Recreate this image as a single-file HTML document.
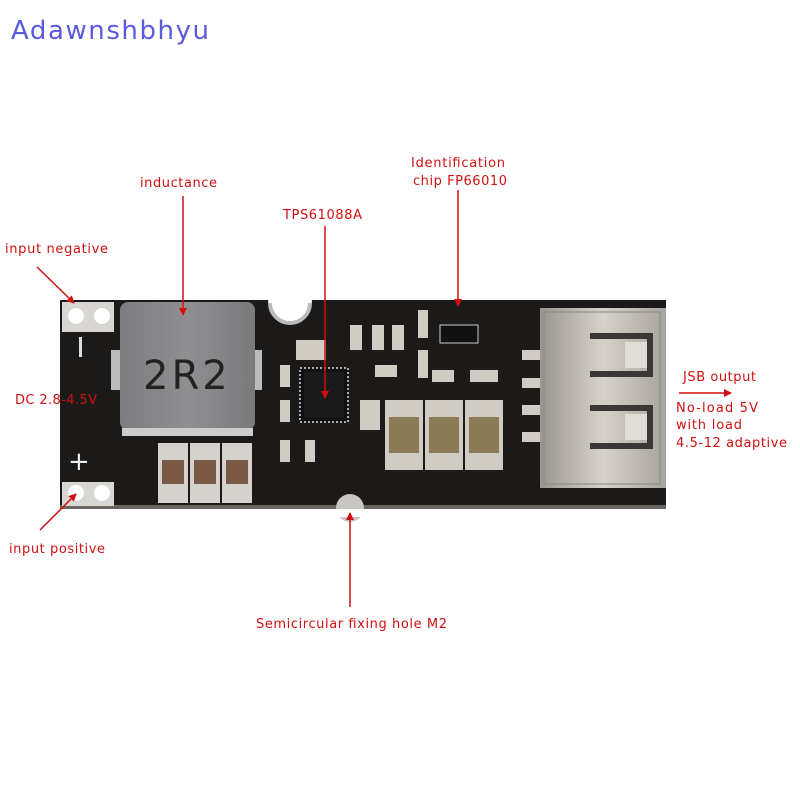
<!DOCTYPE html>
<html><head><meta charset="utf-8"><style>
html,body{margin:0;padding:0;background:#fff;}
svg{display:block;}
text{font-family:"DejaVu Sans","Liberation Sans",sans-serif;}
</style></head><body>
<svg width="800" height="800" viewBox="0 0 800 800" xmlns="http://www.w3.org/2000/svg">
<defs>
<marker id="ah" markerWidth="8" markerHeight="8" refX="7" refY="4" orient="auto" markerUnits="userSpaceOnUse">
<path d="M0,0 L8,4 L0,8 z" fill="#d01010"/></marker>
<linearGradient id="usb" x1="0" x2="1"><stop offset="0" stop-color="#9a958d"/><stop offset="0.5" stop-color="#d6d2cb"/><stop offset="1" stop-color="#a8a39b"/></linearGradient>
<linearGradient id="ind" x1="0" x2="1"><stop offset="0" stop-color="#7d7d80"/><stop offset="0.5" stop-color="#8f8f92"/><stop offset="1" stop-color="#7a7a7c"/></linearGradient>
</defs>
<rect width="800" height="800" fill="#fff"/>
<text x="11" y="39" font-size="26" fill="#5a5ae0" font-family="DejaVu Sans,sans-serif" textLength="198">Adawnshbhyu</text>

<!-- board -->
<rect x="60" y="300" width="606" height="208" fill="#1c1a19"/>
<rect x="60" y="505" width="606" height="4" fill="#6b6560"/>
<path d="M268,300 A22 22 0 0 0 312,300 z" fill="#fff"/>
<path d="M270,303 A20 20 0 0 0 310,303" fill="none" stroke="#bbb" stroke-width="4"/>
<circle cx="350" cy="508" r="14" fill="#c8c6c2"/>
<rect x="336" y="509" width="28" height="8" fill="#fff"/>
<rect x="62" y="302" width="52" height="30" fill="#d8d6d2"/>
<circle cx="76" cy="316" r="8" fill="#fff"/><circle cx="102" cy="316" r="8" fill="#fff"/>
<rect x="62" y="482" width="52" height="24" fill="#d8d6d2"/>
<circle cx="76" cy="493" r="8" fill="#fff"/><circle cx="102" cy="493" r="8" fill="#fff"/>
<rect x="79" y="337" width="3" height="20" fill="#ddd"/>
<text x="68" y="470" font-size="26" fill="#eee">+</text>
<rect x="111" y="350" width="12" height="40" fill="#bbb"/><rect x="252" y="350" width="10" height="40" fill="#bbb"/>
<rect x="120" y="302" width="135" height="128" rx="8" fill="url(#ind)"/>
<rect x="122" y="428" width="131" height="8" fill="#ccc"/>
<text x="143" y="389" font-size="40" fill="#222" font-family="Liberation Mono,monospace" letter-spacing="3">2R2</text>
<g fill="#d4d2cd"><rect x="158" y="443" width="30" height="60"/><rect x="190" y="443" width="30" height="60"/><rect x="222" y="443" width="30" height="60"/></g>
<g fill="#7a5a45"><rect x="162" y="460" width="22" height="24"/><rect x="194" y="460" width="22" height="24"/><rect x="226" y="460" width="22" height="24"/></g>
<rect x="300" y="368" width="48" height="54" fill="#111" stroke="#aaa" stroke-width="2" stroke-dasharray="2 2"/>
<rect x="304" y="372" width="40" height="46" fill="#1a1a1a"/>
<g fill="#d0ccc4">
<rect x="296" y="340" width="30" height="20"/><rect x="350" y="325" width="12" height="25"/><rect x="372" y="325" width="12" height="25"/><rect x="392" y="325" width="12" height="25"/>
<rect x="418" y="310" width="10" height="28"/><rect x="418" y="350" width="10" height="28"/><rect x="375" y="365" width="22" height="12"/>
<rect x="280" y="365" width="10" height="22"/><rect x="280" y="400" width="10" height="22"/><rect x="280" y="440" width="10" height="22"/><rect x="305" y="440" width="10" height="22"/>
<rect x="432" y="370" width="22" height="12"/><rect x="470" y="370" width="28" height="12"/>
<rect x="360" y="400" width="20" height="30"/>
<rect x="385" y="400" width="38" height="70"/><rect x="425" y="400" width="38" height="70"/><rect x="465" y="400" width="38" height="70"/>
<rect x="522" y="350" width="20" height="10"/><rect x="522" y="378" width="20" height="10"/><rect x="522" y="405" width="20" height="10"/><rect x="522" y="432" width="20" height="10"/>
</g>
<g fill="#8a7a55"><rect x="389" y="417" width="30" height="36"/><rect x="429" y="417" width="30" height="36"/><rect x="469" y="417" width="30" height="36"/></g>
<rect x="440" y="325" width="38" height="18" fill="#111" stroke="#ccc" stroke-width="1"/>
<rect x="540" y="308" width="126" height="180" fill="url(#usb)"/>
<rect x="544" y="312" width="116" height="172" fill="none" stroke="#888" stroke-width="1"/>
<path d="M590,336 L650,336 L650,374 L590,374" fill="none" stroke="#3a3836" stroke-width="6"/>
<path d="M590,408 L650,408 L650,446 L590,446" fill="none" stroke="#3a3836" stroke-width="6"/>
<rect x="625" y="342" width="22" height="26" fill="#e0ddd6"/><rect x="625" y="414" width="22" height="26" fill="#e0ddd6"/>

<g fill="#d01010" font-size="13">
<text x="5" y="253" textLength="103">input negative</text>
<text x="140" y="187" textLength="77">inductance</text>
<text x="283" y="219" textLength="79">TPS61088A</text>
<text x="411" y="167" textLength="94">Identification</text>
<text x="413" y="185" textLength="94">chip FP66010</text>
<text x="15" y="404" textLength="82">DC 2.8-4.5V</text>
<text x="683" y="381" textLength="73">JSB output</text>
<text x="676" y="412" textLength="82">No-load 5V</text>
<text x="676" y="429" textLength="66">with load</text>
<text x="676" y="447" textLength="111">4.5-12 adaptive</text>
<text x="9" y="553" textLength="96">input positive</text>
<text x="256" y="628" textLength="191">Semicircular fixing hole M2</text>
</g>
<g stroke="#d01010" stroke-width="1.5" fill="none">
<line x1="37" y1="267" x2="74" y2="303" marker-end="url(#ah)"/>
<line x1="183" y1="196" x2="183" y2="315" marker-end="url(#ah)"/>
<line x1="325" y1="226" x2="325" y2="398" marker-end="url(#ah)"/>
<line x1="458" y1="190" x2="458" y2="306" marker-end="url(#ah)"/>
<line x1="40" y1="530" x2="76" y2="494" marker-end="url(#ah)"/>
<line x1="350" y1="607" x2="350" y2="513" marker-end="url(#ah)"/>
<line x1="679" y1="393" x2="731" y2="393" marker-end="url(#ah)"/>
</g>
</svg>
</body></html>
